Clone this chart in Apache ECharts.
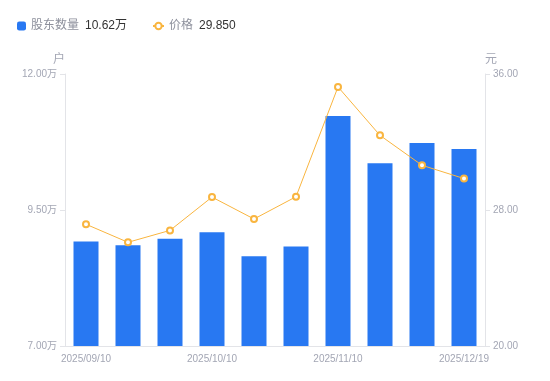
<!DOCTYPE html>
<html>
<head>
<meta charset="utf-8">
<script src="https://cdn.jsdelivr.net/npm/echarts@6/dist/echarts.min.js"></script>
<style>html,body{margin:0;padding:0;background:#fff}#c{width:550px;height:381px}</style>
</head>
<body>
<div id="c"></div>
<script>
const categories = ['2025/09/10','2025/09/19','2025/09/30','2025/10/10','2025/10/20','2025/10/31','2025/11/10','2025/11/20','2025/11/28','2025/12/19'];
const holders = [8.92, 8.85, 8.97, 9.09, 8.65, 8.83, 11.23, 10.36, 10.73, 10.62]; // 万户
const prices = [27.16, 26.10, 26.80, 28.76, 27.47, 28.78, 35.24, 32.39, 30.63, 29.85];
const leftTicks = [7, 9.5, 12];
const rightTicks = [20, 28, 36];
const legendValues = {'股东数量': '10.62万', '价格': '29.850'};

const FONT = "'Liberation Sans', 'Noto Sans CJK SC', sans-serif";
const GRAY = '#a3a6b4';
const AXIS = '#e3e4e8';
const BLUE = '#2878f2';
const ORANGE = '#f9b53f';

const legendText = {
  rich: {
    n: {fontSize: 12, color: '#8d909c', fontFamily: FONT, padding: [0, 6, 0, 0]},
    v: {fontSize: 12, color: '#333', fontFamily: FONT}
  }
};
const fmt = n => `{n|${n}}{v|${legendValues[n]}}`;

const chart = echarts.init(document.getElementById('c'));
chart.setOption({
  animation: false,
  textStyle: {fontFamily: FONT},
  legend: [
    {
      left: 12, top: 15, itemWidth: 9, itemHeight: 9,
      data: [{name: '股东数量', icon: 'roundRect'}],
      formatter: fmt, textStyle: legendText
    },
    {
      left: 147, top: 15, itemWidth: 11, itemHeight: 8,
      data: [{name: '价格'}],
      formatter: fmt, textStyle: legendText
    }
  ],
  grid: {left: 65, right: 65, top: 74, bottom: 35},
  xAxis: {
    type: 'category',
    data: categories,
    axisLine: {lineStyle: {color: AXIS}},
    axisTick: {show: false},
    axisLabel: {interval: 2, color: GRAY, fontSize: 10, fontFamily: FONT, margin: 8}
  },
  yAxis: [
    {
      type: 'value', min: 7, max: 12, interval: 2.5,
      name: '户', nameGap: 8,
      nameTextStyle: {color: GRAY, fontSize: 12, align: 'right'},
      axisLine: {show: true, lineStyle: {color: AXIS}},
      axisTick: {show: true, length: 5, lineStyle: {color: AXIS}, customValues: leftTicks},
      splitLine: {show: false},
      axisLabel: {color: GRAY, fontSize: 10, fontFamily: FONT, margin: 8, customValues: leftTicks,
        formatter: v => v.toFixed(2) + '万'}
    },
    {
      type: 'value', min: 20, max: 36, interval: 8,
      name: '元', nameGap: 8,
      nameTextStyle: {color: GRAY, fontSize: 12, align: 'left'},
      axisLine: {show: true, lineStyle: {color: AXIS}},
      axisTick: {show: true, length: 5, lineStyle: {color: AXIS}, customValues: rightTicks},
      splitLine: {show: false},
      axisLabel: {color: GRAY, fontSize: 10, fontFamily: FONT, margin: 8, customValues: rightTicks,
        formatter: v => v.toFixed(2)}
    }
  ],
  series: [
    {
      name: '股东数量', type: 'bar', yAxisIndex: 0, barWidth: 25,
      data: holders,
      itemStyle: {color: BLUE}
    },
    {
      name: '价格', type: 'line', yAxisIndex: 1,
      data: prices,
      symbol: 'circle', symbolSize: 6, showAllSymbol: true,
      lineStyle: {color: ORANGE, width: 1},
      itemStyle: {color: '#fff', borderColor: ORANGE, borderWidth: 2}
    }
  ]
});
</script>
</body>
</html>
